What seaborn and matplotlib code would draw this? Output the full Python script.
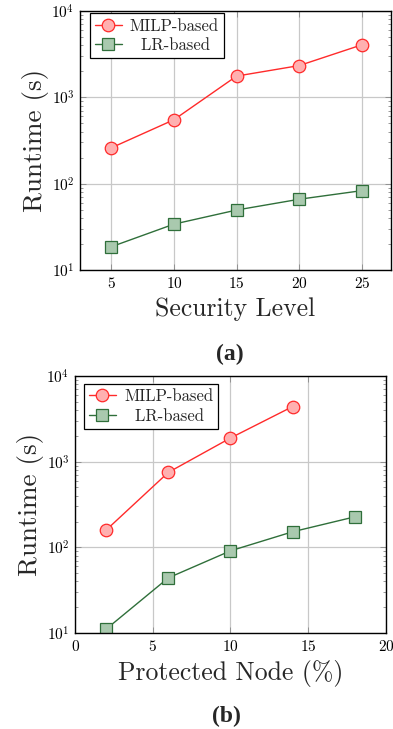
import matplotlib
matplotlib.use("Agg")
import matplotlib.pyplot as plt
import seaborn as sns
import pandas as pd
from matplotlib.ticker import LogLocator, NullFormatter

# (a) runtime vs security level
sec_level = [5, 10, 15, 20, 25]
sec_milp = [260, 550, 1760, 2330, 4050]
sec_lr = [18.6, 34, 49.5, 66, 83]

# (b) runtime vs protected node percentage
node_milp_x = [2, 6, 10, 14]
node_milp = [159, 750, 1890, 4400]
node_lr_x = [2, 6, 10, 14, 18]
node_lr = [11.1, 44, 91, 152, 227]

series_names = ["MILP-based", "LR-based"]

sns.set_style("ticks")
plt.rcParams["font.family"] = ["cmr10", "DejaVu Serif"]
plt.rcParams["mathtext.fontset"] = "cm"
plt.rcParams["axes.formatter.use_mathtext"] = True

red_line, red_face = "#ff2a2a", "#ffb0b0"
grn_line, grn_face = "#2f6f3a", "#a9c9ae"


def draw_panel(ax, milp_x, milp_y, lr_x, lr_y, xlabel, xlim, xticks, leg_anchor):
    df_m = pd.DataFrame({"x": milp_x, "y": milp_y})
    df_l = pd.DataFrame({"x": lr_x, "y": lr_y})
    sns.lineplot(data=df_m, x="x", y="y", ax=ax, color=red_line, lw=1.0,
                 marker="o", markersize=9, markerfacecolor=red_face,
                 markeredgecolor=red_line, markeredgewidth=0.9,
                 label=series_names[0])
    sns.lineplot(data=df_l, x="x", y="y", ax=ax, color=grn_line, lw=1.0,
                 marker="s", markersize=9, markerfacecolor=grn_face,
                 markeredgecolor=grn_line, markeredgewidth=0.9,
                 label=series_names[1])
    ax.set_yscale("log")
    ax.set_ylim(10, 1e4)
    ax.set_xlim(*xlim)
    ax.set_xticks(xticks)
    ax.yaxis.set_major_locator(LogLocator(base=10, numticks=10))
    ax.yaxis.set_minor_locator(LogLocator(base=10, subs=range(2, 10), numticks=10))
    ax.yaxis.set_minor_formatter(NullFormatter())
    ax.grid(True, which="major", color="#c8c8c8", lw=0.9)
    ax.set_axisbelow(True)
    ax.tick_params(which="both", direction="in", top=True, right=True,
                   labelsize=11, pad=4)
    ax.tick_params(which="major", length=4, width=0.6, colors="#888888",
                   labelcolor="black")
    ax.tick_params(which="minor", length=2.5, width=0.6, colors="#888888")
    for s in ax.spines.values():
        s.set_linewidth(1.0)
        s.set_color("black")
    ax.set_xlabel(xlabel, fontsize=18.5, labelpad=5)
    ax.set_ylabel("Runtime (s)", fontsize=19.5, labelpad=2)
    # pgfplots centres the entries, so pad the shorter one
    labels = [series_names[0], "  " + series_names[1]]
    handles, _ = ax.get_legend_handles_labels()
    leg = ax.legend(handles, labels, loc="upper left", bbox_to_anchor=leg_anchor,
                    fontsize=12, frameon=True, fancybox=False,
                    edgecolor="black", framealpha=1, borderpad=0.3,
                    handlelength=1.6, handletextpad=0.5, labelspacing=0.25,
                    borderaxespad=0)
    leg.get_frame().set_linewidth(0.9)


fig = plt.figure(figsize=(3.93, 7.29), dpi=100)
ax1 = fig.add_axes([0.2036, 0.6296, 0.7904, 0.3554])
ax2 = fig.add_axes([0.191, 0.1317, 0.791, 0.3525])

draw_panel(ax1, sec_level, sec_milp, sec_level, sec_lr,
           "Security Level", (2.5, 27.3), sec_level, (0.032, 0.991))
draw_panel(ax2, node_milp_x, node_milp, node_lr_x, node_lr,
           "Protected Node (%)", (0, 20), [0, 5, 10, 15, 20], (0.029, 0.969))

fig.text(230 / 393, 1 - 354 / 729, "(a)", ha="center", va="center", fontsize=17,
         weight="bold", family=["Liberation Serif"])
fig.text(226 / 393, 1 - 716 / 729, "(b)", ha="center", va="center", fontsize=17,
         weight="bold", family=["Liberation Serif"])

fig.savefig("out.png", dpi=100)
